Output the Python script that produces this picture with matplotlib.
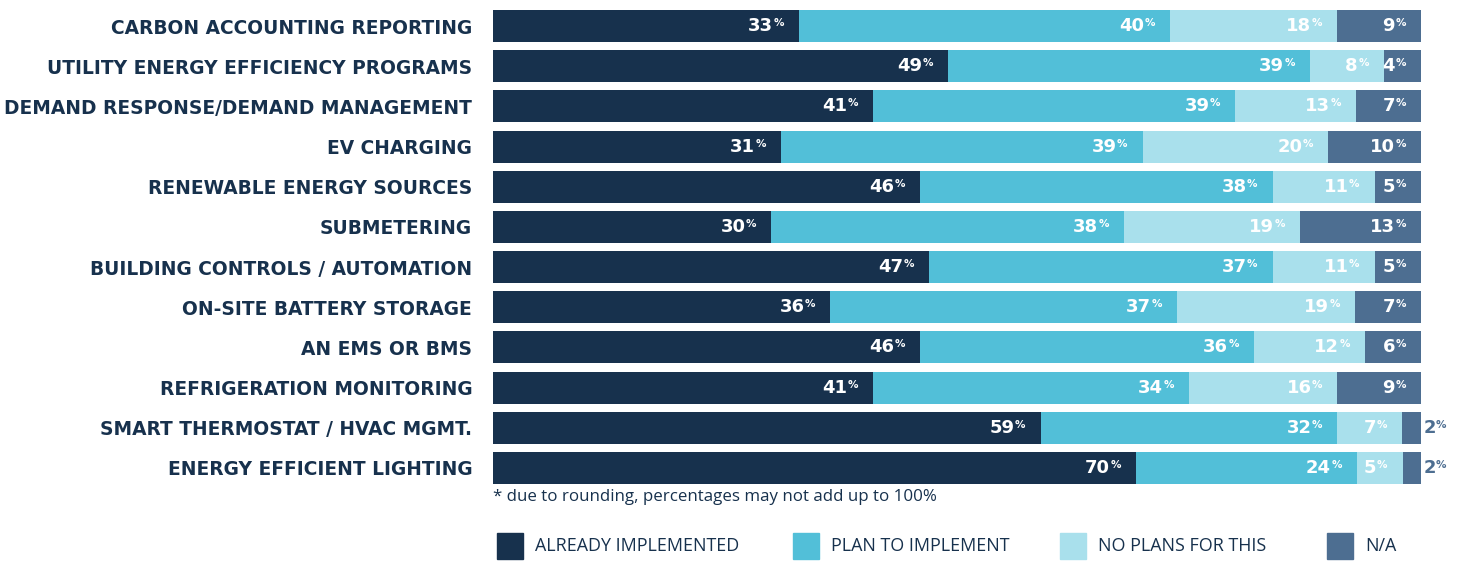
import numpy as np
import matplotlib
matplotlib.use("Agg")
import matplotlib.pyplot as plt
from matplotlib.patches import Rectangle

categories = [
    "CARBON ACCOUNTING REPORTING",
    "UTILITY ENERGY EFFICIENCY PROGRAMS",
    "DEMAND RESPONSE/DEMAND MANAGEMENT",
    "EV CHARGING",
    "RENEWABLE ENERGY SOURCES",
    "SUBMETERING",
    "BUILDING CONTROLS / AUTOMATION",
    "ON-SITE BATTERY STORAGE",
    "AN EMS OR BMS",
    "REFRIGERATION MONITORING",
    "SMART THERMOSTAT / HVAC MGMT.",
    "ENERGY EFFICIENT LIGHTING",
]
already = [33, 49, 41, 31, 46, 30, 47, 36, 46, 41, 59, 70]
plan = [40, 39, 39, 39, 38, 38, 37, 37, 36, 34, 32, 24]
no_plans = [18, 8, 13, 20, 11, 19, 11, 19, 12, 16, 7, 5]
na = [9, 4, 7, 10, 5, 13, 5, 7, 6, 9, 2, 2]
series_names = ["ALREADY IMPLEMENTED", "PLAN TO IMPLEMENT", "NO PLANS FOR THIS", "N/A"]
colors = ["#17314d", "#52bfd8", "#a9e0ec", "#4d6e91"]
navy = "#17314d"

W, H = 1460, 566
fig = plt.figure(figsize=(W / 100, H / 100), dpi=100)
ax = fig.add_axes([493 / W, 1 - 488 / H, 928 / W, 482 / H])

data = np.array([already, plan, no_plans, na], dtype=float)
shares = data / data.sum(axis=0) * 100  # bars run to 100% (rounded labels)
y = np.arange(len(categories))
left = np.zeros(len(categories))
px = 0.72  # points per pixel
lab_font = "DejaVu Sans"

for k in range(4):
    ax.barh(y, shares[k], left=left, height=0.8, color=colors[k], edgecolor="none")
    for i in range(len(categories)):
        end = left[i] + shares[k][i]
        val = int(data[k][i])
        if val < 3:
            ax.annotate(str(val), xy=(end, y[i]), xytext=(3 * px, 0), textcoords="offset points",
                        ha="left", va="center", color=colors[3], fontsize=13, fontweight="bold",
                        family=lab_font)
            ax.annotate("%", xy=(end, y[i]), xytext=(15 * px, 3 * px), textcoords="offset points",
                        ha="left", va="center", color=colors[3], fontsize=7.5, fontweight="bold",
                        family=lab_font)
        else:
            ax.annotate(str(val), xy=(end, y[i]), xytext=(-26 * px, 0), textcoords="offset points",
                        ha="right", va="center", color="white", fontsize=13, fontweight="bold",
                        family=lab_font)
            ax.annotate("%", xy=(end, y[i]), xytext=(-15 * px, 3 * px), textcoords="offset points",
                        ha="right", va="center", color="white", fontsize=7.5, fontweight="bold",
                        family=lab_font)
    left = left + shares[k]

ax.set_xlim(0, 100)
ax.set_ylim(len(categories) - 0.5, -0.5)
ax.set_yticks(y)
ax.set_yticklabels(categories, fontsize=13.4, fontweight="bold", color=navy, family=lab_font)
ax.tick_params(axis="y", length=0, pad=15)
ax.set_xticks([])
for s in ax.spines.values():
    s.set_visible(False)

fig.text(493 / W, 1 - 497 / H, "* due to rounding, percentages may not add up to 100%",
         fontsize=12.2, color=navy, family="Open Sans", ha="left", va="center")

legend_x = [497, 793, 1060, 1327]
for k, name in enumerate(series_names):
    x0 = legend_x[k]
    fig.add_artist(Rectangle((x0 / W, 1 - 559 / H), 26 / W, 26 / H,
                             transform=fig.transFigure, color=colors[k]))
    fig.text((x0 + 38) / W, 1 - 546 / H, name, fontsize=12.9, color=navy,
             family="Open Sans", ha="left", va="center")

fig.savefig("out.png", dpi=100)
